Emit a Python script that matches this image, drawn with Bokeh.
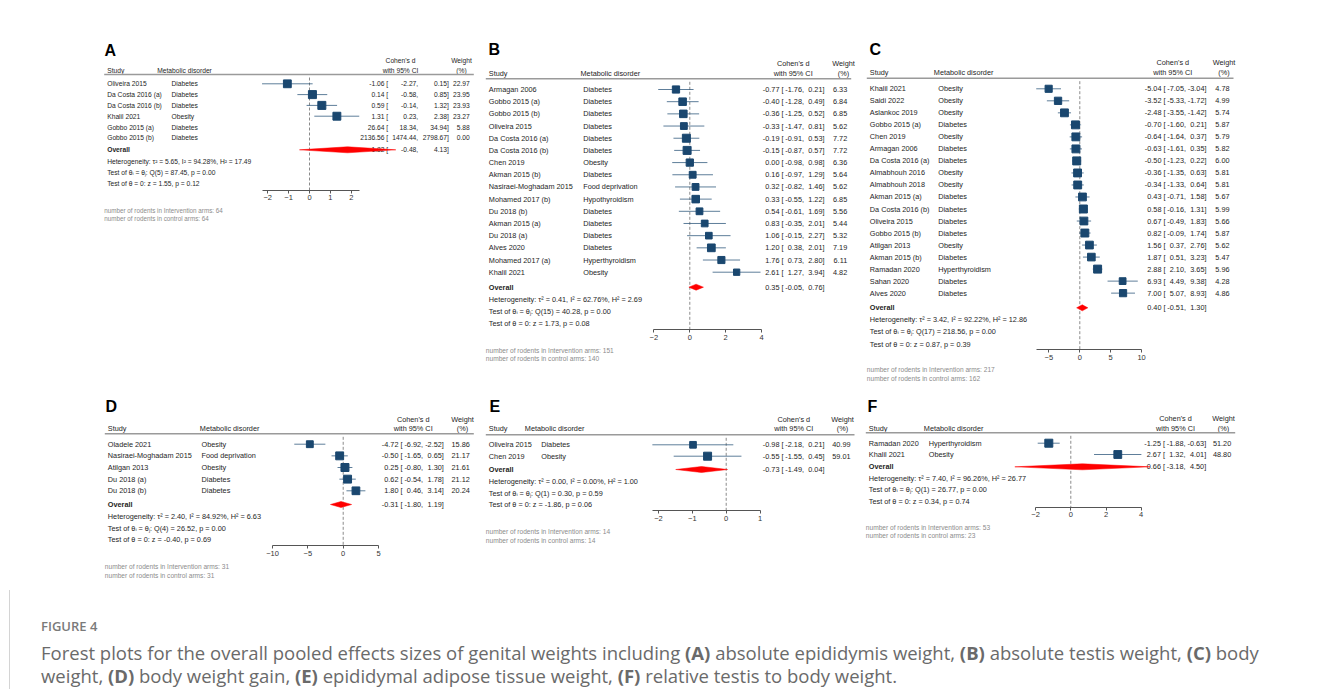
from bokeh.plotting import figure
from bokeh.models import Range1d, LinearAxis, FixedTicker, Spacer, Div
from bokeh.layouts import column, row
from bokeh.embed import file_html
from bokeh.resources import INLINE
from bokeh.core.properties import value

# ---------------- DATA ----------------
A_study = ["Oliveira 2015", "Da Costa 2016 (a)", "Da Costa 2016 (b)", "Khalil 2021", "Gobbo 2015 (a)", "Gobbo 2015 (b)"]
A_disorder = ["Diabetes", "Diabetes", "Diabetes", "Obesity", "Diabetes", "Diabetes"]
A_es = [-1.06, 0.14, 0.59, 1.31, 26.64, 2136.56]
A_lo = [-2.27, -0.58, -0.14, 0.23, 18.34, 1474.44]
A_hi = [0.15, 0.85, 1.32, 2.38, 34.94, 2798.67]
A_w = [22.97, 23.95, 23.93, 23.27, 5.88, 0.00]
A_overall = [1.82, -0.48, 4.13]
A_stats = ["Heterogeneity: τ² = 5.65, I² = 94.28%, H² = 17.49",
           "Test of θᵢ = θⱼ: Q(5) = 87.45, p = 0.00",
           "Test of θ = 0: z = 1.55, p = 0.12"]
A_n = [64, 64]

B_study = ["Armagan 2006", "Gobbo 2015 (a)", "Gobbo 2015 (b)", "Oliveira 2015", "Da Costa 2016 (a)",
           "Da Costa 2016 (b)", "Chen 2019", "Akman 2015 (b)", "Nasiraei-Moghadam 2015", "Mohamed 2017 (b)",
           "Du 2018 (b)", "Akman 2015 (a)", "Du 2018 (a)", "Alves 2020", "Mohamed 2017 (a)", "Khalil 2021"]
B_disorder = ["Diabetes", "Diabetes", "Diabetes", "Diabetes", "Diabetes", "Diabetes", "Obesity", "Diabetes",
              "Food deprivation", "Hypothyroidism", "Diabetes", "Diabetes", "Diabetes", "Diabetes",
              "Hyperthyroidism", "Obesity"]
B_es = [-0.77, -0.40, -0.36, -0.33, -0.19, -0.15, 0.00, 0.16, 0.32, 0.33, 0.54, 0.83, 1.06, 1.20, 1.76, 2.61]
B_lo = [-1.76, -1.28, -1.25, -1.47, -0.91, -0.87, -0.98, -0.97, -0.82, -0.55, -0.61, -0.35, -0.15, 0.38, 0.73, 1.27]
B_hi = [0.21, 0.49, 0.52, 0.81, 0.53, 0.57, 0.98, 1.29, 1.46, 1.22, 1.69, 2.01, 2.27, 2.01, 2.80, 3.94]
B_w = [6.33, 6.84, 6.85, 5.62, 7.72, 7.72, 6.36, 5.64, 5.62, 6.85, 5.56, 5.44, 5.32, 7.19, 6.11, 4.82]
B_overall = [0.35, -0.05, 0.76]
B_stats = ["Heterogeneity: τ² = 0.41, I² = 62.76%, H² = 2.69",
           "Test of θᵢ = θⱼ: Q(15) = 40.28, p = 0.00",
           "Test of θ = 0: z = 1.73, p = 0.08"]
B_n = [151, 140]

C_study = ["Khalil 2021", "Saidi 2022", "Aslankoc 2019", "Gobbo 2015 (a)", "Chen 2019", "Armagan 2006",
           "Da Costa 2016 (a)", "Almabhouh 2016", "Almabhouh 2018", "Akman 2015 (a)", "Da Costa 2016 (b)",
           "Oliveira 2015", "Gobbo 2015 (b)", "Atilgan 2013", "Akman 2015 (b)", "Ramadan 2020",
           "Sahan 2020", "Alves 2020"]
C_disorder = ["Obesity", "Obesity", "Obesity", "Diabetes", "Obesity", "Diabetes", "Diabetes", "Obesity",
              "Obesity", "Diabetes", "Diabetes", "Diabetes", "Diabetes", "Obesity", "Diabetes",
              "Hyperthyroidism", "Diabetes", "Diabetes"]
C_es = [-5.04, -3.52, -2.48, -0.70, -0.64, -0.63, -0.50, -0.36, -0.34, 0.43, 0.58, 0.67, 0.82, 1.56, 1.87, 2.88, 6.93, 7.00]
C_lo = [-7.05, -5.33, -3.55, -1.60, -1.64, -1.61, -1.23, -1.35, -1.33, -0.71, -0.16, -0.49, -0.09, 0.37, 0.51, 2.10, 4.49, 5.07]
C_hi = [-3.04, -1.72, -1.42, 0.21, 0.37, 0.35, 0.22, 0.63, 0.64, 1.58, 1.31, 1.83, 1.74, 2.76, 3.23, 3.65, 9.38, 8.93]
C_w = [4.78, 4.99, 5.74, 5.87, 5.79, 5.82, 6.00, 5.81, 5.81, 5.67, 5.99, 5.66, 5.87, 5.62, 5.47, 5.96, 4.28, 4.86]
C_overall = [0.40, -0.51, 1.30]
C_stats = ["Heterogeneity: τ² = 3.42, I² = 92.22%, H² = 12.86",
           "Test of θᵢ = θⱼ: Q(17) = 218.56, p = 0.00",
           "Test of θ = 0: z = 0.87, p = 0.39"]
C_n = [217, 162]

D_study = ["Oladele 2021", "Nasiraei-Moghadam 2015", "Atilgan 2013", "Du 2018 (a)", "Du 2018 (b)"]
D_disorder = ["Obesity", "Food deprivation", "Obesity", "Diabetes", "Diabetes"]
D_es = [-4.72, -0.50, 0.25, 0.62, 1.80]
D_lo = [-6.92, -1.65, -0.80, -0.54, 0.46]
D_hi = [-2.52, 0.65, 1.30, 1.78, 3.14]
D_w = [15.86, 21.17, 21.61, 21.12, 20.24]
D_overall = [-0.31, -1.80, 1.19]
D_stats = ["Heterogeneity: τ² = 2.40, I² = 84.92%, H² = 6.63",
           "Test of θᵢ = θⱼ: Q(4) = 26.52, p = 0.00",
           "Test of θ = 0: z = -0.40, p = 0.69"]
D_n = [31, 31]

E_study = ["Oliveira 2015", "Chen 2019"]
E_disorder = ["Diabetes", "Obesity"]
E_es = [-0.98, -0.55]
E_lo = [-2.18, -1.55]
E_hi = [0.21, 0.45]
E_w = [40.99, 59.01]
E_overall = [-0.73, -1.49, 0.04]
E_stats = ["Heterogeneity: τ² = 0.00, I² = 0.00%, H² = 1.00",
           "Test of θᵢ = θⱼ: Q(1) = 0.30, p = 0.59",
           "Test of θ = 0: z = -1.86, p = 0.06"]
E_n = [14, 14]

F_study = ["Ramadan 2020", "Khalil 2021"]
F_disorder = ["Hyperthyroidism", "Obesity"]
F_es = [-1.25, 2.67]
F_lo = [-1.88, 1.32]
F_hi = [-0.63, 4.01]
F_w = [51.20, 48.80]
F_overall = [0.66, -3.18, 4.50]
F_stats = ["Heterogeneity: τ² = 7.40, I² = 96.26%, H² = 26.77",
           "Test of θᵢ = θⱼ: Q(1) = 26.77, p = 0.00",
           "Test of θ = 0: z = 0.34, p = 0.74"]
F_n = [53, 23]

A_ticks = [-2, -1, 0, 1, 2]
B_ticks = [-2, 0, 2, 4]
C_ticks = [-5, 0, 5, 10]
D_ticks = [-10, -5, 0, 5]
E_ticks = [-2, -1, 0, 1]
F_ticks = [-2, 0, 2, 4]

# ---------------- STYLE ----------------
FONT = "Liberation Sans"
NAVY = "#1a476f"
TXT = "#1e1e1e"


def forest(label, study, disorder, es, lo, hi, w, overall, stats, n, ticks, L):
    left, width, top, bottom = L["box"]
    fs = L["fs"]
    p = figure(width=width, height=bottom - top, x_range=Range1d(left, left + width),
               y_range=Range1d(bottom, top), output_backend="svg", toolbar_location=None,
               x_axis_type=None, y_axis_type=None, outline_line_color=None,
               min_border_left=0, min_border_right=0, min_border_top=0, min_border_bottom=0)
    p.title.visible = False
    zero, ppu = L["zero"], L["ppu"]
    p.extra_x_ranges = {"es": Range1d((left - zero) / ppu, (left + width - zero) / ppu)}

    def txt(xs, ys, texts, size=fs, align="left", color=TXT, style="normal"):
        p.text(x=xs, y=ys, text=texts, text_font=value(FONT), text_font_size=value(size),
               text_align=align, text_baseline="middle", text_color=color, text_font_style=style)

    k = len(study)
    ys = [L["first"] + i * L["dy"] for i in range(k)]
    X1, X2, X3, X4 = L["cols"]

    # panel label and header
    txt([L["lab"][0]], [L["lab"][1]], [label], size="16px", color="#000", style="bold")
    h1, h2, hl = L["hdr"]
    txt([L["sx"], L["dhx"]], [h2, h2], ["Study", "Metabolic disorder"])
    txt([L["cdx"], L["cdx"]], [h1, h2], ["Cohen's d", "with 95% CI"], align="center")
    txt([L["wtx"], L["wtx"]], [h1, h2], ["Weight", "(%)"], align="center")
    p.segment(x0=[L["sx"] - 3], x1=[X4 + 4], y0=[hl], y1=[hl], line_color="#9a9a9a", line_width=1.5)

    # zero reference line
    p.segment(x0=[0], x1=[0], y0=[hl + 3], y1=[L["axis"]], x_range_name="es",
              line_color="#8a8a8a", line_width=1, line_dash="3 2")

    # study rows
    txt([L["sx"]] * k, ys, study)
    txt([L["dx"]] * k, ys, disorder)
    txt([X1] * k, ys, [f"{v:.2f} [" for v in es], align="right")
    txt([X2] * k, ys, [f"{v:.2f}," for v in lo], align="right")
    txt([X3] * k, ys, [f"{v:.2f}]" for v in hi], align="right")
    txt([X4] * k, ys, [f"{v:.2f}" for v in w], align="right")

    wmax = max(w)
    sizes = [L["sq"] * (v / wmax) ** 0.5 for v in w]
    p.segment(x0=lo, x1=hi, y0=ys, y1=ys, x_range_name="es", line_color=NAVY,
              line_width=1, line_alpha=0.7)
    p.scatter(x=es, y=ys, size=sizes, marker="square", x_range_name="es",
              fill_color=NAVY, line_color=NAVY)

    # overall + stats
    yo = L["over"]
    txt([L["sx"]], [yo], ["Overall"], style="bold")
    oes, olo, ohi = overall
    txt([X1], [yo], [f"{oes:.2f} ["], align="right")
    txt([X2], [yo], [f"{olo:.2f},"], align="right")
    txt([X3], [yo], [f"{ohi:.2f}]"], align="right")
    txt([L["sx"]] * 3, L["stats"], stats)
    p.patch(x=[olo, oes, ohi, oes], y=[yo, yo - 3, yo, yo + 3], x_range_name="es",
            fill_color="#ff0000", line_color="#ff0000", line_width=0.5)

    # footnotes
    txt([L["sx"] - 3] * 2, L["foot"],
        [f"number of rodents in Intervention arms: {n[0]}", f"number of rodents in control arms: {n[1]}"],
        size=L["ffs"], color="#8c8c8c")

    ax = LinearAxis(x_range_name="es", ticker=FixedTicker(ticks=ticks), bounds=L["bounds"],
                    fixed_location=L["axis"], axis_line_color="#555555", major_tick_line_color="#555555",
                    minor_tick_line_color=None, major_tick_in=0, major_tick_out=3,
                    major_label_text_font=FONT, major_label_text_font_size="7.5px",
                    major_label_standoff=2, major_label_text_color="#333333")
    p.add_layout(ax, "below")
    return p


LA = dict(box=(95, 385, 35, 390), fs="6.7px", ffs="6.3px", lab=(104, 50), sx=106.7, dhx=156.7, dx=171,
          hdr=(60, 70, 74), first=83.3, dy=10.8, over=149.3, stats=[161, 171.7, 183.3], axis=189.5,
          foot=[209.5, 218], zero=309, ppu=20.9, bounds=(-2.27, 2.38),
          cols=(387.7, 417.7, 448.3, 469.3), cdx=400, wtx=461, sq=8)
LB = dict(box=(480, 380, 35, 390), fs="7.3px", ffs="6.6px", lab=(488, 49), sx=488.3, dhx=580, dx=582.7,
          hdr=(63.3, 72.7, 78.3), first=89, dy=12.18, over=286.7, stats=[299, 310.7, 322.7], axis=329.3,
          foot=[349.7, 358.3], zero=689.3, ppu=17.95, bounds=(-2, 4),
          cols=(783, 803.5, 824, 846.7), cdx=792.7, wtx=843, sq=8)
LC = dict(box=(860, 390, 35, 390), fs="7.3px", ffs="6.6px", lab=(869, 49), sx=869.3, dhx=933.3, dx=937.7,
          hdr=(62.3, 72.3, 77.7), first=88.3, dy=12.02, over=307.3, stats=[319.3, 331.3, 343.7], axis=349.3,
          foot=[369.3, 378], zero=1079.3, ppu=6.18, bounds=(-7.05, 10),
          cols=(1165, 1185.5, 1206, 1229), cdx=1172.3, wtx=1223.5, sq=8)
LD = dict(box=(95, 385, 390, 590), fs="7.3px", ffs="6.6px", lab=(105, 406), sx=107.3, dhx=199.3, dx=201,
          hdr=(419, 428.3, 433.3), first=443.7, dy=11.65, over=504, stats=[515.7, 527.7, 539.3], axis=545,
          foot=[565.7, 575], zero=342.7, ppu=7.07, bounds=(-10, 5),
          cols=(402, 422.6, 443.3, 469.3), cdx=412.7, wtx=462, sq=8)
LE = dict(box=(480, 380, 390, 590), fs="7.3px", ffs="6.6px", lab=(489, 406), sx=488.3, dhx=524.3, dx=540.7,
          hdr=(419, 428.3, 434.3), first=444.3, dy=11.4, over=469, stats=[481, 492.7, 504], axis=510,
          foot=[530.7, 539.7], zero=725.7, ppu=33.87, bounds=(-2.18, 1),
          cols=(783, 803.5, 824, 850), cdx=793.3, wtx=842, sq=8)
LF = dict(box=(860, 390, 390, 590), fs="7.3px", ffs="6.6px", lab=(867, 406), sx=868.3, dhx=923.3, dx=928.3,
          hdr=(417.7, 427.7, 432.3), first=442.7, dy=11.3, over=466.3, stats=[477.7, 489.3, 501], axis=506.7,
          foot=[526.7, 535], zero=1070.3, ppu=17.6, bounds=(-2, 4),
          cols=(1164.5, 1185, 1205.7, 1230.7), cdx=1175, wtx=1223, sq=8)

pA = forest("A", A_study, A_disorder, A_es, A_lo, A_hi, A_w, A_overall, A_stats, A_n, A_ticks, LA)
pB = forest("B", B_study, B_disorder, B_es, B_lo, B_hi, B_w, B_overall, B_stats, B_n, B_ticks, LB)
pC = forest("C", C_study, C_disorder, C_es, C_lo, C_hi, C_w, C_overall, C_stats, C_n, C_ticks, LC)
pD = forest("D", D_study, D_disorder, D_es, D_lo, D_hi, D_w, D_overall, D_stats, D_n, D_ticks, LD)
pE = forest("E", E_study, E_disorder, E_es, E_lo, E_hi, E_w, E_overall, E_stats, E_n, E_ticks, LE)
pF = forest("F", F_study, F_disorder, F_es, F_lo, F_hi, F_w, F_overall, F_stats, F_n, F_ticks, LF)

caption_html = (
    '<div style="margin-left:9px;border-left:1px solid #d4d4d4;height:99px;padding-left:31px;'
    'box-sizing:border-box;font-family:\'Open Sans\';">'
    '<div style="padding-top:27px;font-size:13px;font-weight:600;color:#7a7a7a;line-height:18px;">FIGURE 4</div>'
    '<div style="margin-top:6px;font-size:18.5px;color:#6a6a6a;line-height:23px;white-space:nowrap;">'
    'Forest plots for the overall pooled effects sizes of genital weights including <b>(A)</b> absolute '
    'epididymis weight, <b>(B)</b> absolute testis weight, <b>(C)</b> body<br>weight, <b>(D)</b> body weight '
    'gain, <b>(E)</b> epididymal adipose tissue weight, <b>(F)</b> relative testis to body weight.</div></div>'
)
caption = Div(text=caption_html, width=1331, height=99, margin=(0, 0, 0, 0))

layout = column(
    Spacer(width=1331, height=35),
    row(Spacer(width=95, height=355), pA, pB, pC),
    row(Spacer(width=95, height=200), pD, pE, pF),
    caption,
)

open("out.html", "w").write(file_html(layout, INLINE))
